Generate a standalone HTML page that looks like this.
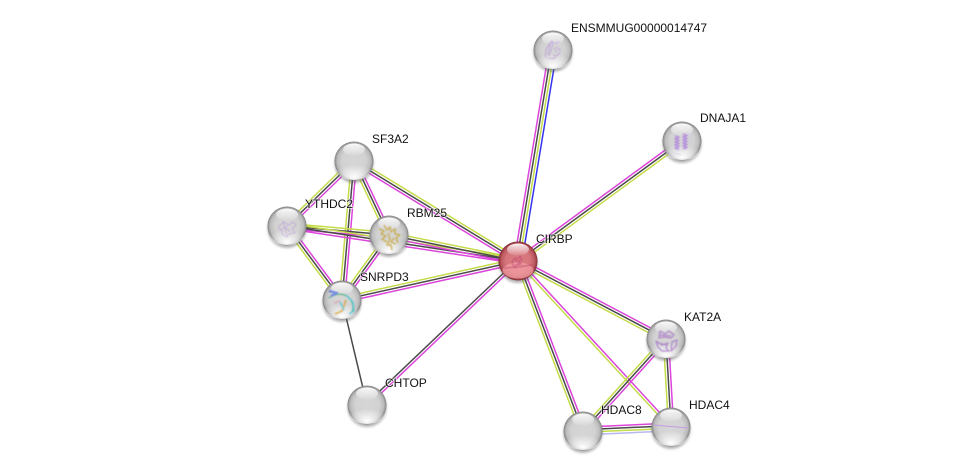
<!DOCTYPE html>
<html><head><meta charset="utf-8"><style>
html,body{margin:0;padding:0;background:#fff;width:976px;height:476px;overflow:hidden}
svg{display:block}
.e line{stroke-width:1.5;fill:none}
.m{stroke:#dc44dc}.k{stroke:#4a4a4a}.y{stroke:#c4dc48}.b{stroke:#3434f0}.p{stroke:#b8b8f2}
text{font:12px "Liberation Sans",sans-serif;fill:#111;paint-order:stroke;stroke:#fff;stroke-width:1.6px;stroke-opacity:.7}
.s{fill:none;stroke-width:.9;stroke-linejoin:round}
.i{opacity:.7}
</style></head><body>
<svg width="976" height="476" viewBox="0 0 976 476" xmlns="http://www.w3.org/2000/svg">
<defs>
<radialGradient id="g" cx=".5" cy=".5" r=".5">
<stop offset="0" stop-color="#d6d6d6"/><stop offset=".62" stop-color="#d2d2d2"/><stop offset=".86" stop-color="#bcbcbc"/><stop offset=".96" stop-color="#939393"/><stop offset="1" stop-color="#808080"/>
</radialGradient>
<radialGradient id="r" cx=".5" cy=".5" r=".5">
<stop offset="0" stop-color="#da7c82"/><stop offset=".62" stop-color="#d6767c"/><stop offset=".86" stop-color="#bd5860"/><stop offset=".96" stop-color="#93373e"/><stop offset="1" stop-color="#782830"/>
</radialGradient>
<linearGradient id="h" x1="0" y1="0" x2="0" y2="1"><stop offset="0" stop-color="#fff" stop-opacity=".95"/><stop offset="1" stop-color="#fff" stop-opacity=".08"/></linearGradient>
<radialGradient id="gl" cx=".5" cy=".85" r=".65"><stop offset="0" stop-color="#fff" stop-opacity="1"/><stop offset="1" stop-color="#fff" stop-opacity="0"/></radialGradient>
<filter id="bl" x="-30%" y="-30%" width="160%" height="160%"><feGaussianBlur stdDeviation="1.4"/></filter>
<filter id="sf" x="-20%" y="-20%" width="140%" height="140%"><feGaussianBlur stdDeviation=".4"/></filter>
<g id="n">
<circle cx="0" cy="2.5" r="19.5" fill="#555" opacity=".45" filter="url(#bl)"/>
<circle r="19.5" fill="url(#g)"/>
<ellipse cy="9.5" rx="17" ry="9.5" fill="url(#gl)"/>
<ellipse cy="-11.5" rx="11" ry="6" fill="url(#h)"/>
</g>
<g id="nr">
<circle cx="0" cy="2.5" r="19.5" fill="#555" opacity=".45" filter="url(#bl)"/>
<circle r="19.5" fill="url(#r)"/>
<ellipse cy="9.5" rx="15.5" ry="8" fill="#f6a6aa" opacity=".65"/>
<ellipse cy="-11.5" rx="11" ry="6" fill="url(#h)"/>
</g>
</defs>
<g class="e">
<g transform="matrix(-.1636 .9865 -.9865 -.1636 553 50)"><line x2="213.9" y1="3.9" y2="3.9" class="m"/><line x2="213.9" y1="1.3" y2="1.3" class="k"/><line x2="213.9" y1="-1.3" y2="-1.3" class="y"/><line x2="213.9" y1="-3.9" y2="-3.9" class="b"/></g>
<g transform="matrix(-.807 .5905 -.5905 -.807 682 141)"><line x2="203.2" y1="2.6" y2="2.6" class="m"/><line x2="203.2" class="k"/><line x2="203.2" y1="-2.6" y2="-2.6" class="y"/></g>
<g transform="matrix(.854 .5206 -.5206 .854 354 161)"><line x2="192.1" y1="-2.6" y2="-2.6" class="y"/><line x2="192.1" class="k"/><line x2="192.1" y1="2.6" y2="2.6" class="m"/></g>
<g transform="matrix(-.718 .697 -.697 -.718 354 161)"><line x2="93.3" y1="2.6" y2="2.6" class="y"/><line x2="93.3" class="k"/><line x2="93.3" y1="-2.6" y2="-2.6" class="m"/></g>
<g transform="matrix(.427 .904 -.904 .427 354 161)"><line x2="81.9" y1="2.6" y2="2.6" class="y"/><line x2="81.9" class="k"/><line x2="81.9" y1="-2.6" y2="-2.6" class="m"/></g>
<g transform="matrix(-.086 .996 -.996 -.086 354 161)"><line x2="139.5" y1="2.6" y2="2.6" class="y"/><line x2="139.5" class="k"/><line x2="139.5" y1="-2.6" y2="-2.6" class="m"/></g>
<g transform="matrix(.996 .088 -.088 .996 287 226)"><line x2="102.4" y1="-2.6" y2="-2.6" class="y"/><line x2="102.4" class="k"/><line x2="102.4" y1="2.6" y2="2.6" class="m"/></g>
<g transform="matrix(.597 .803 -.803 .597 287 226)"><line x2="92.2" y1="2.6" y2="2.6" class="y"/><line x2="92.2" class="k"/><line x2="92.2" y1="-2.6" y2="-2.6" class="m"/></g>
<g transform="matrix(.989 .15 -.15 .989 287 226)"><line x2="233.6" y1="-2.6" y2="-2.6" class="y"/><line x2="233.6" class="k"/><line x2="233.6" y1="2.6" y2="2.6" class="m"/></g>
<g transform="matrix(.98 .198 -.198 .98 389 235)"><line x2="131.6" y1="-2.6" y2="-2.6" class="y"/><line x2="131.6" class="k"/><line x2="131.6" y1="2.6" y2="2.6" class="m"/></g>
<g transform="matrix(-.586 .81 -.81 -.586 389 235)"><line x2="80.2" y1="2.6" y2="2.6" class="y"/><line x2="80.2" class="k"/><line x2="80.2" y1="-2.6" y2="-2.6" class="m"/></g>
<g transform="matrix(.976 -.216 .216 .976 342 300)"><line x2="180.3" y1="-2.6" y2="-2.6" class="y"/><line x2="180.3" class="k"/><line x2="180.3" y1="2.6" y2="2.6" class="m"/></g>
<line x1="342" y1="300" x2="367" y2="405" class="k"/>
<g transform="matrix(.724 -.69 .69 .724 367 405)"><line x2="208.7" y1="-1.3" y2="-1.3" class="k"/><line x2="208.7" y1="1.3" y2="1.3" class="m"/></g>
<g transform="matrix(.885 .466 -.466 .885 518 261)"><line x2="167.3" y1="-2.6" y2="-2.6" class="m"/><line x2="167.3" class="k"/><line x2="167.3" y1="2.6" y2="2.6" class="y"/></g>
<g transform="matrix(.357 .934 -.934 .357 518 261)"><line x2="182" y1="2.6" y2="2.6" class="y"/><line x2="182" class="k"/><line x2="182" y1="-2.6" y2="-2.6" class="m"/></g>
<g transform="matrix(.678 .735 -.735 .678 518 261)"><line x2="225.8" y1="1.3" y2="1.3" class="y"/><line x2="225.8" y1="-1.3" y2="-1.3" class="m"/></g>
<g transform="matrix(-.67 .743 -.743 -.67 666 339)"><line x2="123.9" y1="2.6" y2="2.6" class="y"/><line x2="123.9" class="k"/><line x2="123.9" y1="-2.6" y2="-2.6" class="m"/></g>
<g transform="matrix(.057 .998 -.998 .057 666 339)"><line x2="88.1" y1="2.6" y2="2.6" class="y"/><line x2="88.1" class="k"/><line x2="88.1" y1="-2.6" y2="-2.6" class="m"/></g>
<g transform="matrix(.999 -.045 .045 .999 583 431)"><line x2="88.1" y1="-3.9" y2="-3.9" class="m"/><line x2="88.1" y1="-1.3" y2="-1.3" class="k"/><line x2="88.1" y1="1.3" y2="1.3" class="y"/><line x2="88.1" y1="3.9" y2="3.9" class="p"/></g>
</g>

<use href="#n" x="553" y="50"/>
<g filter="url(#sf)" class="i"><path class="s" stroke="#b78fdc" d="M546 58c-2-7 2-13 6-17c1 5-1 10-3 15m1-13l-2 12m4-13c3 2 5 1 7 0m-3 5l4 3c1 4-4 7-7 5m1-7l3 4m-9 6c3 1 6 1 8-1"/>
<path class="s" stroke="#e0d0ee" d="M555 39l5 3-2 5M558 50l3 3-3 5"/></g>
<use href="#n" x="682" y="141"/>
<g filter="url(#sf)" class="i"><path class="s" stroke="#a874e0" style="stroke-width:1.7" d="M675 136l4 1.500-4 1.500 4 1.500-4 1.500 4 1.500-4 1.500 4 1.500-4 1.500 4 1.500M683 134l4 1.500-4 1.500 4 1.500-4 1.500 4 1.500-4 1.500 4 1.500-4 1.500 4 1.500-4 1.500"/>
<path class="s" stroke="#d8c8ea" d="M687 132l3 3 3-2M689 140l4 2M675 153l6 2"/></g>
<use href="#n" x="354" y="161"/>
<use href="#n" x="287" y="226"/>
<g filter="url(#sf)" class="i"><path class="s" stroke="#c0a0dc" d="M279 226l5-4 5 3 4-3 3 3-4 4 3 4-6 1-2 3-4-2-1-4-3-2zM283 221l4 14M280 230l10-6M285 227l5 5"/></g>
<use href="#n" x="389" y="235"/>
<g filter="url(#sf)" class="i"><path class="s" stroke="#c8a63e" style="stroke-width:1.7" d="M379 229l5 2-3 3 5 2-4 3 5 3M384 225l3 5 3-3 1 5 4-3 0 5 5 1-4 3 2 5M388 233l2 6-3 6 4 0 1 5M394 238l-3 4 5 2"/></g>
<use href="#n" x="342" y="300"/>
<g filter="url(#sf)" class="i"><path class="s" stroke="#3fae78" style="stroke-width:1.5" d="M329 298c6-5 14-5 19-1s6 10 4 15"/>
<path class="s" stroke="#4a6fe0" style="stroke-width:2.2" d="M329 291l8 2-6 3"/>
<path class="s" stroke="#d6a63c" style="stroke-width:2" d="M335 314l7-3 4-11"/>
<path class="s" stroke="#38c4d4" style="stroke-width:1.5" d="M346 295l7 7 1 9-5 3M340 302l4 8"/>
<path class="s" stroke="#e07090" d="M334 303l6-2"/></g>
<use href="#n" x="367" y="405"/>
<use href="#n" x="583" y="431"/>
<use href="#n" x="671" y="427"/>
<path class="s" stroke="#c49ce2" style="stroke-width:1" d="M654 425l34 3"/>
<use href="#n" x="666" y="339"/>
<g filter="url(#sf)" class="i"><path class="s" stroke="#a878c8" style="stroke-width:1.5" d="M660 331l5 3 4-3 5 4-3 3-7-1-5 1zM656 341l6 4 6-2-2 5 3 3-7 0-4-4zM672 342l5-2-1 6-5 5zM659 335l12 1M658 343l9 2"/></g>
<use href="#nr" x="518" y="261"/>
<g filter="url(#sf)" class="i"><path class="s" stroke="#b83a6a" d="M512 262l3-4 3 1 2-3 2 4-3 1 2 3-5 1-1 3-2-3zM515 259l4 5M504 268l14-1 14-2"/></g>

<text x="571" y="32">ENSMMUG00000014747</text>
<text x="700" y="122">DNAJA1</text>
<text x="372" y="143">SF3A2</text>
<text x="305" y="208">YTHDC2</text>
<text x="407" y="217">RBM25</text>
<text x="536" y="243">CIRBP</text>
<text x="360" y="281">SNRPD3</text>
<text x="684" y="321">KAT2A</text>
<text x="385" y="387">CHTOP</text>
<text x="601" y="414">HDAC8</text>
<text x="689" y="409">HDAC4</text>
</svg>
</body></html>
